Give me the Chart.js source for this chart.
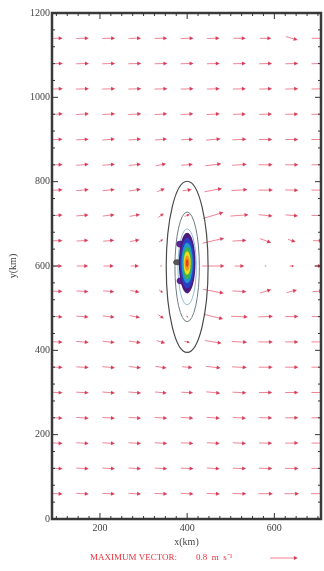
<!DOCTYPE html>
<html>
<head>
<meta charset="utf-8">
<script src="https://cdn.jsdelivr.net/npm/chart.js@4/dist/chart.umd.min.js"></script>
<style>
  html, body { margin: 0; padding: 0; background: #fff; }
  #wrap { width: 324px; height: 571px; }
</style>
</head>
<body>
<div id="wrap"><canvas id="quiver"></canvas></div>
<script>
// grid of vector positions (km)
const gridX = [100, 160, 220, 280, 340, 400, 460, 520, 580, 640, 700];
const gridY = [1140, 1080, 1020, 960, 900, 840, 780, 720, 660, 600, 540, 480, 420, 360, 300, 240, 180, 120, 60];

// u, v (m/s), one row per gridY entry
const uRows = [
  [.36, .36, .37, .36, .36, .37, .36, .36, .33, .34, .36],
  [.37, .37, .37, .37, .37, .37, .37, .37, .37, .37, .37],
  [.37, .37, .37, .37, .37, .37, .37, .37, .37, .37, .37],
  [.37, .37, .37, .37, .36, .36, .38, .37, .37, .37, .37],
  [.36, .36, .36, .36, .35, .34, .42, .40, .38, .37, .37],
  [.36, .36, .36, .35, .30, .33, .46, .42, .40, .38, .37],
  [.36, .36, .35, .34, .22, .26, .50, .46, .42, .38, .37],
  [.36, .35, .34, .30, .16, .15, .58, .52, .40, .36, .37],
  [.35, .34, .32, .27, .12, 0, .62, .40, .32, .22, .28],
  [.34, .33, .30, .24, .05, 0, .64, .28, .05, .14, .22],
  [.35, .34, .32, .27, .12, 0, .60, .40, .32, .30, .30],
  [.36, .35, .34, .30, .16, .06, .56, .48, .42, .38, .36],
  [.36, .36, .35, .34, .24, .16, .48, .44, .42, .38, .37],
  [.36, .36, .36, .35, .32, .30, .42, .42, .40, .38, .37],
  [.36, .36, .36, .36, .34, .34, .40, .40, .38, .38, .37],
  [.36, .36, .36, .36, .36, .36, .38, .38, .38, .38, .37],
  [.36, .36, .36, .36, .36, .36, .37, .38, .38, .38, .37],
  [.36, .36, .36, .36, .36, .37, .37, .38, .38, .39, .38],
  [.36, .36, .36, .36, .37, .37, .38, .40, .42, .42, .40]
];
const vRows = [
  [.01, .01, .01, .01, .01, .01, .01, 0, 0, -.10, 0],
  [.01, .01, .01, .01, .01, .01, .01, .01, .01, .01, .01],
  [.01, .01, .01, .01, .01, .01, .01, .01, .01, .01, .01],
  [.02, .02, .02, .02, .02, .02, .02, .01, .01, .01, .01],
  [.02, .02, .03, .03, .03, .02, .04, .02, 0, 0, 0],
  [.02, .03, .03, .04, .06, .03, .06, .03, 0, 0, 0],
  [.02, .03, .04, .05, .10, .04, .10, .03, 0, -.01, 0],
  [.02, .03, .04, .06, .12, .06, .18, .04, -.04, -.03, 0],
  [.01, .02, .03, .05, .08, 0, .15, .02, -.12, -.08, 0],
  [0, 0, 0, 0, 0, 0, 0, 0, 0, 0, 0],
  [-.01, -.02, -.03, -.05, -.09, 0, -.12, -.02, .10, .08, .02],
  [-.02, -.03, -.04, -.06, -.12, -.05, -.14, -.02, .02, 0, 0],
  [-.02, -.03, -.04, -.05, -.08, -.04, -.08, -.02, 0, 0, 0],
  [-.02, -.02, -.03, -.04, -.05, -.03, -.05, -.02, 0, 0, 0],
  [-.02, -.02, -.03, -.03, -.03, -.02, -.04, -.02, 0, 0, 0],
  [-.02, -.02, -.02, -.02, -.02, -.02, -.03, -.02, -.01, 0, 0],
  [-.02, -.02, -.02, -.02, -.02, -.02, -.02, -.02, -.01, 0, 0],
  [-.02, -.02, -.02, -.02, -.02, -.02, -.02, -.01, -.01, 0, 0],
  [-.02, -.02, -.02, -.02, -.02, -.02, -.02, -.01, 0, 0, 0]
];

const xTickLabels = [200, 400, 600];
const yTickLabels = [0, 200, 400, 600, 800, 1000, 1200];

// contour rings (km): centre and semi-axes
const ringCenter = [400, 598];
const ringSemiX = [48, 28, 21];
const ringSemiY = [203, 130, 90];
// filled core levels, outermost first
const coreCenter = [400, 607];
const coreSemiX = [19, 16, 13, 10, 8, 6, 3];
const coreSemiY = [72, 60, 48, 38, 28, 18, 9];
// small side lobes: x, y, semi-x, semi-y
const lobes = [
  [384, 652, 9, 8],
  [385, 565, 9, 8],
  [378, 609, 10, 7]
];

const maxVector = 0.8;   // m/s, legend arrow
const vectorScale = 80;  // km of axis per 1 m/s

const ringColors = ["#4a4a4a", "#6f7c84", "#8fbcd8"];
const coreColors = ["#4b1b7e", "#2c3fc4", "#1e98cf", "#3db24a", "#eedf1e", "#f2961e", "#e5421c"];
const lobeColors = ["#5a2590", "#5a2590", "#555555"];
const arrowShaft = "rgba(232, 80, 105, 0.7)";
const arrowHead = "rgba(210, 40, 70, 0.85)";

const points = [];
gridY.forEach((y, r) => {
  gridX.forEach((x, c) => {
    points.push({ x, y, u: uRows[r][c], v: vRows[r][c] });
  });
});

function drawArrow(ctx, x0, y0, x1, y1) {
  const dx = x1 - x0, dy = y1 - y0;
  const len = Math.hypot(dx, dy);
  if (len < 0.5) return;
  const ux = dx / len, uy = dy / len;
  const hl = Math.min(4, len * 0.5), hw = hl * 0.5;
  ctx.strokeStyle = arrowShaft;
  ctx.lineWidth = 1;
  ctx.beginPath();
  ctx.moveTo(x0, y0);
  ctx.lineTo(x1 - ux * hl * 0.5, y1 - uy * hl * 0.5);
  ctx.stroke();
  ctx.fillStyle = arrowHead;
  ctx.beginPath();
  ctx.moveTo(x1, y1);
  ctx.lineTo(x1 - ux * hl - uy * hw, y1 - uy * hl + ux * hw);
  ctx.lineTo(x1 - ux * hl + uy * hw, y1 - uy * hl - ux * hw);
  ctx.closePath();
  ctx.fill();
}

function ellipsePath(ctx, xs, ys, cx, cy, a, b) {
  const px = xs.getPixelForValue(cx), py = ys.getPixelForValue(cy);
  const rx = Math.abs(xs.getPixelForValue(cx + a) - px);
  const ry = Math.abs(ys.getPixelForValue(cy + b) - py);
  ctx.beginPath();
  ctx.ellipse(px, py, rx, ry, 0, 0, Math.PI * 2);
}

const quiverPlugin = {
  id: "quiver",
  afterDatasetsDraw(chart) {
    const { ctx, chartArea: area, scales: { x: xs, y: ys } } = chart;
    const meta = chart.getDatasetMeta(0);

    ctx.save();
    ctx.beginPath();
    ctx.rect(area.left, area.top, area.right - area.left, area.bottom - area.top);
    ctx.clip();

    meta.data.forEach((el, i) => {
      const d = points[i];
      const dx = xs.getPixelForValue(d.x + d.u * vectorScale) - xs.getPixelForValue(d.x);
      const dy = ys.getPixelForValue(d.y + d.v * vectorScale) - ys.getPixelForValue(d.y);
      drawArrow(ctx, el.x - dx / 2, el.y - dy / 2, el.x + dx / 2, el.y + dy / 2);
    });

    // contour rings
    ringSemiX.forEach((a, i) => {
      ellipsePath(ctx, xs, ys, ringCenter[0], ringCenter[1], a, ringSemiY[i]);
      ctx.strokeStyle = ringColors[i];
      ctx.lineWidth = i === 0 ? 1.2 : 1;
      ctx.stroke();
    });
    // side lobes then filled core
    lobes.forEach((l, i) => {
      ellipsePath(ctx, xs, ys, l[0], l[1], l[2], l[3]);
      ctx.fillStyle = lobeColors[i];
      ctx.fill();
    });
    coreSemiX.forEach((a, i) => {
      ellipsePath(ctx, xs, ys, coreCenter[0], coreCenter[1], a, coreSemiY[i]);
      ctx.fillStyle = coreColors[i];
      ctx.fill();
    });
    ctx.restore();

    // frame
    ctx.save();
    ctx.strokeStyle = "#3a3a3a";
    ctx.lineWidth = 2.5;
    ctx.strokeRect(area.left, area.top, area.right - area.left, area.bottom - area.top);

    // inward ticks on all four sides
    ctx.lineWidth = 1;
    ctx.strokeStyle = "#333";
    ctx.beginPath();
    xs.ticks.forEach(t => {
      const p = xs.getPixelForValue(t.value);
      const len = xTickLabels.includes(t.value) ? 6 : 3;
      ctx.moveTo(p, area.bottom); ctx.lineTo(p, area.bottom - len);
      ctx.moveTo(p, area.top); ctx.lineTo(p, area.top + len);
    });
    ys.ticks.forEach(t => {
      const p = ys.getPixelForValue(t.value);
      const len = yTickLabels.includes(t.value) ? 6 : 3;
      ctx.moveTo(area.left, p); ctx.lineTo(area.left + len, p);
      ctx.moveTo(area.right, p); ctx.lineTo(area.right - len, p);
    });
    ctx.stroke();

    // legend: maximum vector
    const ly = 558;
    ctx.fillStyle = "#e8323f";
    ctx.font = "9px 'Liberation Serif', serif";
    ctx.textBaseline = "middle";
    ctx.textAlign = "left";
    ctx.fillText("MAXIMUM VECTOR:", 90, ly);
    ctx.fillText("0.8  m  s\u207B\u00B9", 196, ly);
    const legLen = xs.getPixelForValue(xs.min + maxVector * vectorScale) - xs.getPixelForValue(xs.min);
    drawArrow(ctx, 270, ly, 270 + legLen, ly);
    ctx.restore();
  }
};

const axisFont = { family: "'Liberation Serif', serif", size: 10 };

new Chart(document.getElementById("quiver"), {
  type: "scatter",
  data: {
    datasets: [{
      data: points,
      pointRadius: 0,
      pointHoverRadius: 0,
      showLine: false
    }]
  },
  options: {
    animation: false,
    responsive: true,
    maintainAspectRatio: false,
    events: [],
    layout: { padding: { top: 13, right: 3, bottom: 19, left: 0 } },
    plugins: {
      legend: { display: false },
      tooltip: { enabled: false }
    },
    scales: {
      x: {
        type: "linear",
        min: 90,
        max: 707,
        afterFit(scale) { scale.height = 33; },
        grid: { display: false, drawTicks: false },
        border: { display: false },
        ticks: {
          stepSize: 25,
          includeBounds: false,
          autoSkip: false,
          maxRotation: 0,
          padding: 3,
          color: "#444",
          font: axisFont,
          callback: v => (xTickLabels.includes(v) ? String(v) : "")
        },
        title: {
          display: true,
          text: "x(km)",
          color: "#444",
          font: axisFont,
          padding: { top: 0, bottom: 4 }
        }
      },
      y: {
        type: "linear",
        min: 0,
        max: 1200,
        afterFit(scale) { scale.width = 52; },
        grid: { display: false, drawTicks: false },
        border: { display: false },
        ticks: {
          stepSize: 40,
          autoSkip: false,
          padding: 2,
          color: "#444",
          font: axisFont,
          callback: v => (yTickLabels.includes(v) ? String(v) : "")
        },
        title: {
          display: true,
          text: "y(km)",
          color: "#444",
          font: axisFont,
          padding: { top: 7, bottom: 0 }
        }
      }
    }
  },
  plugins: [quiverPlugin]
});
</script>
</body>
</html>
